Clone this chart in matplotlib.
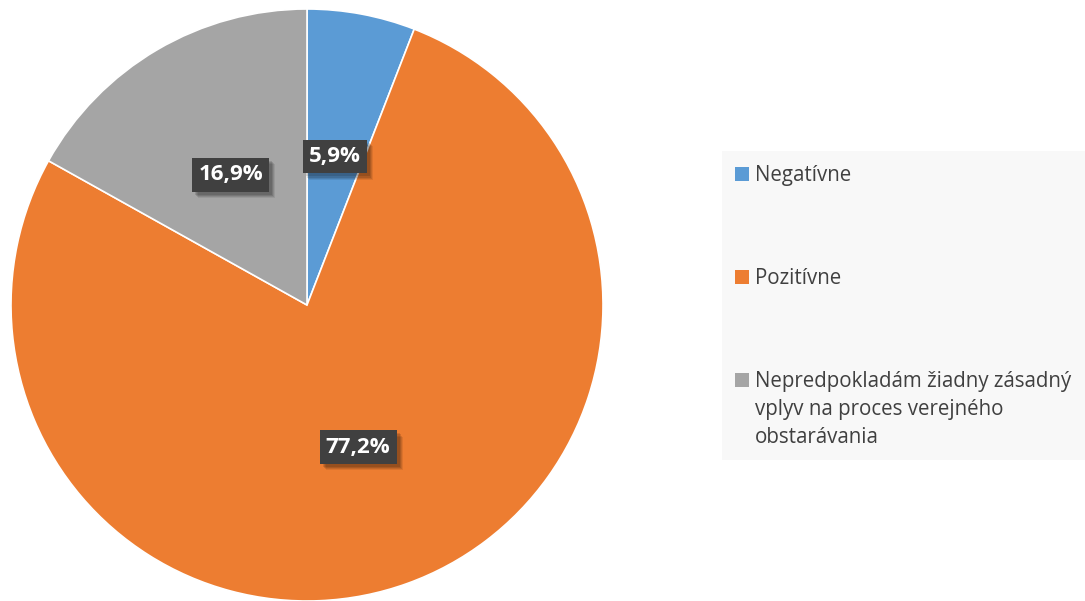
import matplotlib.pyplot as plt
import matplotlib.patheffects as pe
from matplotlib.patches import Rectangle

# data
categories = ["Negatívne", "Pozitívne",
              "Nepredpokladám žiadny zásadný\nvplyv na proces verejného\nobstarávania"]
shares = [5.9, 77.2, 16.9]
colors = ["#5B9BD5", "#ED7D31", "#A5A5A5"]

W, H = 1085, 601
fig = plt.figure(figsize=(W / 100, H / 100), dpi=100)
fig.patch.set_facecolor("white")

# axes in pixel units so the pie lands where it should
ax = fig.add_axes([0, 0, 1, 1])

wedges, texts, autotexts = ax.pie(
    shares, colors=colors, startangle=90, counterclock=False,
    center=(307, H - 305), radius=296, frame=True,
    wedgeprops=dict(edgecolor="white", linewidth=1.2),
    autopct=lambda p: f"{p:.1f}%".replace(".", ","), pctdistance=0.51,
    textprops=dict(color="white", fontsize=16, fontweight="bold", family="Open Sans"))
ax.set_xlim(0, W)
ax.set_ylim(0, H)
ax.set_aspect("equal")
ax.axis("off")

# soft drop shadow under the dark label boxes
shadow = [pe.SimplePatchShadow(offset=(o, -o), shadow_rgbFace="#000000", alpha=a)
          for o, a in [(4.5, 0.08), (3.8, 0.1), (3.0, 0.12), (2.2, 0.12)]]
for t in autotexts:
    t.set_bbox(dict(boxstyle="square,pad=0.28", facecolor="#404040",
                    edgecolor="none", linewidth=0))
    t.get_bbox_patch().set_path_effects(shadow + [pe.Normal()])

# legend panel drawn by hand (handle sits on first text line)
x0, y_top, y_bot = 722, 151, 460
fig.patches.append(Rectangle((x0 / W, 1 - y_bot / H), (W - x0) / W, (y_bot - y_top) / H,
                             transform=fig.transFigure, facecolor="#F8F8F8",
                             edgecolor="none", zorder=0))
entry_base = [181, 284, 387]
pitch = 28
for lab, col, yb in zip(categories, colors, entry_base):
    fig.patches.append(Rectangle((735 / W, 1 - yb / H), 14 / W, 14 / H,
                                 transform=fig.transFigure, facecolor=col,
                                 edgecolor="none", zorder=1))
    for i, line in enumerate(lab.split("\n")):
        fig.text(755 / W, 1 - (yb + i * pitch) / H, line, ha="left", va="baseline",
                 fontsize=14.8, color="#404040", family="Open Sans")

fig.savefig("out.png", dpi=100)
